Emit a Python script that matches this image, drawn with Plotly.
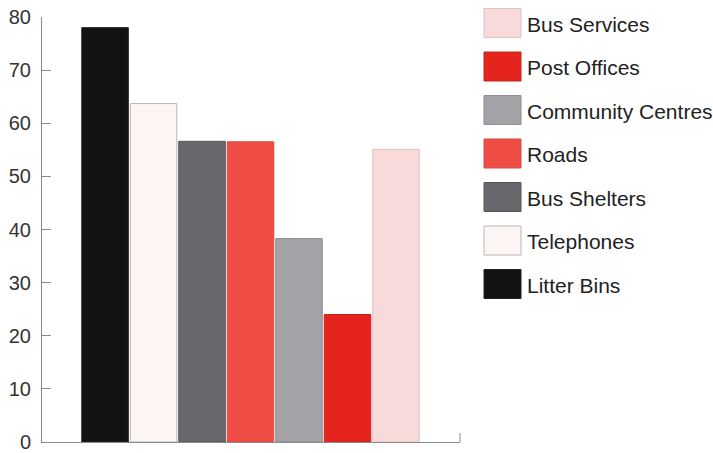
import plotly.graph_objects as go

categories = ["Litter Bins", "Telephones", "Bus Shelters", "Roads",
              "Community Centres", "Post Offices", "Bus Services"]
values = [78, 63.7, 56.6, 56.5, 38.3, 24.0, 55.1]
colors = ["#121212", "#fdf5f4", "#67676c", "#ef4c46", "#a2a2a7", "#e4241d", "#f8dada"]
outline = ["#222222", "#b8b4b4", "#55555a", "#d84a44", "#8e8e93", "#c8221c", "#d8c4c4"]
y_ticks = [0, 10, 20, 30, 40, 50, 60, 70, 80]

fig = go.Figure()
fig.add_trace(go.Bar(
    x=categories, y=values,
    marker=dict(color=colors, line=dict(color=outline, width=1)),
    showlegend=False,
))

# plot geometry (pixels) for custom legend placement
L, R, T, B = 42, 253, 17, 11
W, H = 713, 453
pw, ph = W - L - R, H - T - B

def px_to_paper_x(px):
    return (px - L) / pw

def px_to_paper_y(py):
    return (H - B - py) / ph

shapes = []
annotations = []
legend_order = list(reversed(range(len(categories))))
for row, idx in enumerate(legend_order):
    cy = 23 + row * 43.5
    shapes.append(dict(
        type="rect", xref="paper", yref="paper",
        x0=px_to_paper_x(484), x1=px_to_paper_x(521),
        y0=px_to_paper_y(cy + 14.5), y1=px_to_paper_y(cy - 14.5),
        fillcolor=colors[idx], line=dict(color=outline[idx], width=1),
    ))
    annotations.append(dict(
        xref="paper", yref="paper",
        x=px_to_paper_x(525), y=px_to_paper_y(cy + 1),
        text=categories[idx], showarrow=False,
        xanchor="left", yanchor="middle",
        font=dict(family="Liberation Sans, Arial, sans-serif", size=21, color="#222222"),
    ))

# small end tick on the x axis
shapes.append(dict(type="line", xref="paper", yref="paper",
                   x0=1, x1=1, y0=0, y1=9 / ph,
                   line=dict(color="#8a8a8a", width=1)))

fig.update_layout(
    width=W, height=H,
    margin=dict(l=L, r=R, t=T, b=B, pad=0, autoexpand=False),
    paper_bgcolor="white", plot_bgcolor="white",
    bargap=0.04,
    shapes=shapes, annotations=annotations,
    font=dict(family="Liberation Sans, Arial, sans-serif", color="#333333"),
)
fig.update_xaxes(
    type="category", range=[-1.3, 7.32], automargin=False,
    showticklabels=False, ticks="", showgrid=False, zeroline=False,
    showline=True, linecolor="#8a8a8a", linewidth=1,
)
fig.update_yaxes(
    range=[0, 80], tickvals=y_ticks, automargin=False,
    showgrid=False, zeroline=False,
    showline=True, linecolor="#8a8a8a", linewidth=1,
    ticks="inside", ticklen=9, tickcolor="#8a8a8a",
    tickfont=dict(size=20, color="#333333"),
    ticklabelstandoff=6,
)

fig.write_html("out.html")
